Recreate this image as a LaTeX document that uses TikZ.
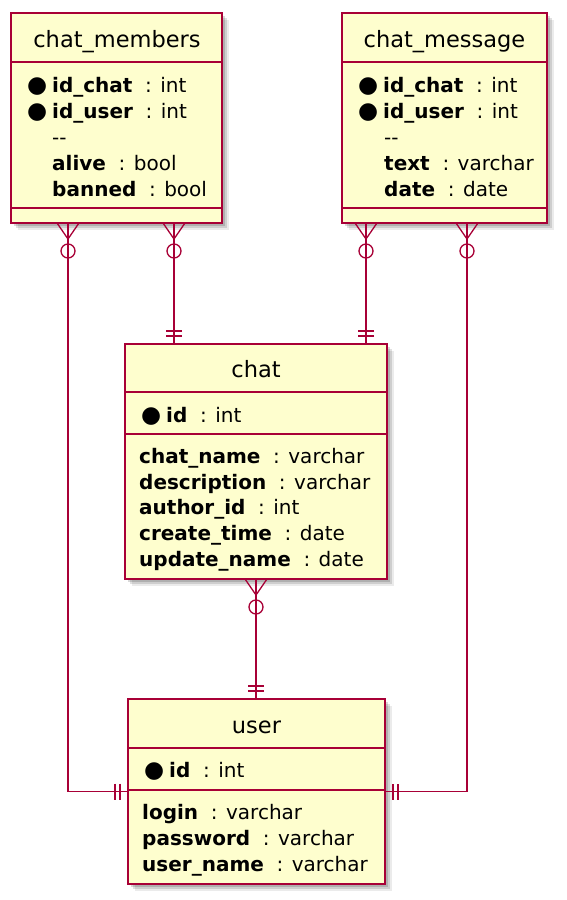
\documentclass[tikz,border=0pt]{standalone}
\usepackage{fontspec}
\setmainfont{DejaVu Sans}
\usetikzlibrary{shadows}

\definecolor{erfill}{HTML}{FEFECE}
\definecolor{erline}{HTML}{A80036}

\newcommand{\pk}{\makebox[25pt][l]{\fontsize{23}{23}\selectfont ●}}
\newcommand{\attr}[2]{\textbf{#1}~ : #2}

\tikzset{
  entity/.style={draw=erline, fill=erfill, line width=1.7pt, inner sep=0pt, outer sep=0pt,
    drop shadow={shadow xshift=7pt, shadow yshift=-7pt, opacity=0.08, fill=black},
    drop shadow={shadow xshift=5pt, shadow yshift=-5pt, opacity=0.12, fill=black},
    drop shadow={shadow xshift=3pt, shadow yshift=-3pt, opacity=0.15, fill=black}},
  etitle/.style={font=\fontsize{22.5}{26}\selectfont, anchor=base, inner sep=0pt},
  field/.style={font=\fontsize{20}{24}\selectfont, anchor=base west, inner sep=0pt},
  sep/.style={draw=erline, line width=1.7pt},
  rel/.style={draw=erline, line width=1.3pt},
  zeromany/.pic={\draw[rel] (-11,0) -- (0,16) -- (11,0); \draw[rel] (0,28) circle[radius=7pt];},
  onlyone/.pic={\draw[rel] (-8,8) -- (8,8) (-8,13) -- (8,13);}
}

\begin{document}
\begin{tikzpicture}[x=1pt,y=-1pt]
    \useasboundingbox (0,0) rectangle (566,900);

    % entity boxes
    \node[entity, minimum width=211pt, minimum height=210pt] (members) at (116.5,118) {};
    \node[entity, minimum width=205pt, minimum height=210pt] (message) at (444.5,118) {};
    \node[entity, minimum width=262pt, minimum height=235pt] (chat) at (256,461.5) {};
    \node[entity, minimum width=257pt, minimum height=185pt] (user) at (256.5,791.5) {};

    % compartment lines
    \draw[sep] (members.west |- 0,62) -- (members.east |- 0,62);
    \draw[sep] (members.west |- 0,208) -- (members.east |- 0,208);
    \draw[sep] (message.west |- 0,62) -- (message.east |- 0,62);
    \draw[sep] (message.west |- 0,208) -- (message.east |- 0,208);
    \draw[sep] (chat.west |- 0,392) -- (chat.east |- 0,392);
    \draw[sep] (chat.west |- 0,434) -- (chat.east |- 0,434);
    \draw[sep] (user.west |- 0,748) -- (user.east |- 0,748);
    \draw[sep] (user.west |- 0,790) -- (user.east |- 0,790);

    % chat_members
    \node[etitle] (members-t) at (117,47) {chat\_members};
    \node[field] (members-1) at (27,92) {\pk\attr{id\_chat}{int}};
    \node[field] (members-2) at (27,118) {\pk\attr{id\_user}{int}};
    \node[field] (members-3) at (52,144) {-{}-};
    \node[field] (members-4) at (52,170) {\attr{alive}{bool}};
    \node[field] (members-5) at (52,196) {\attr{banned}{bool}};

    % chat_message
    \node[etitle] (message-t) at (444.5,47) {chat\_message};
    \node[field] (message-1) at (358,92) {\pk\attr{id\_chat}{int}};
    \node[field] (message-2) at (358,118) {\pk\attr{id\_user}{int}};
    \node[field] (message-3) at (384,144) {-{}-};
    \node[field] (message-4) at (384,170) {\attr{text}{varchar}};
    \node[field] (message-5) at (384,196) {\attr{date}{date}};

    % chat
    \node[etitle] (chat-t) at (256,377) {chat};
    \node[field] (chat-0) at (141,422) {\pk\attr{id}{int}};
    \node[field] (chat-1) at (139,463) {\attr{chat\_name}{varchar}};
    \node[field] (chat-2) at (139,489) {\attr{description}{varchar}};
    \node[field] (chat-3) at (139,514.5) {\attr{author\_id}{int}};
    \node[field] (chat-4) at (139,540.5) {\attr{create\_time}{date}};
    \node[field] (chat-5) at (139,566) {\attr{update\_name}{date}};

    % user
    \node[etitle] (user-t) at (256.5,733) {user};
    \node[field] (user-0) at (144,777) {\pk\attr{id}{int}};
    \node[field] (user-1) at (142,819) {\attr{login}{varchar}};
    \node[field] (user-2) at (142,845) {\attr{password}{varchar}};
    \node[field] (user-3) at (142,871) {\attr{user\_name}{varchar}};

    % relations
    \coordinate (m1) at ([xshift=-48.5pt]members.south);
    \coordinate (m2) at ([xshift=57.5pt]members.south);
    \coordinate (s1) at ([xshift=-78.5pt]message.south);
    \coordinate (s2) at ([xshift=22.5pt]message.south);

    \draw[rel] (m1) |- (user.west);
    \draw[rel] (m2) -- (m2 |- chat.north);
    \draw[rel] (s1) -- (s1 |- chat.north);
    \draw[rel] (s2) |- (user.east);
    \draw[rel] (chat.south) -- (chat.south |- user.north);

    \pic at (m1) {zeromany};
    \pic at (m2) {zeromany};
    \pic at (s1) {zeromany};
    \pic at (s2) {zeromany};
    \pic at (chat.south) {zeromany};
    \pic[rotate=180] at (m2 |- chat.north) {onlyone};
    \pic[rotate=180] at (s1 |- chat.north) {onlyone};
    \pic[rotate=180] at (chat.south |- user.north) {onlyone};
    \pic[rotate=-90] at (user.west) {onlyone};
    \pic[rotate=90] at (user.east) {onlyone};
\end{tikzpicture}
\end{document}
